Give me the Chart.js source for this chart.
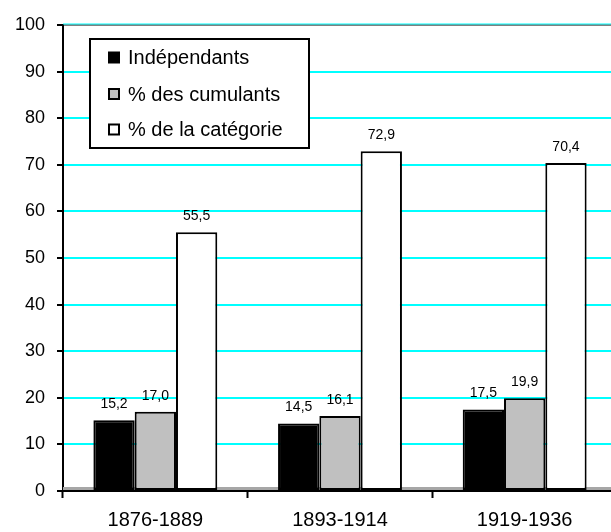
<!DOCTYPE html>
<html>
<head>
<meta charset="utf-8">
<script src="https://cdn.jsdelivr.net/npm/chart.js@4.4.0/dist/chart.umd.min.js"></script>
<style>
  html, body { margin: 0; padding: 0; background: #fff; overflow: hidden; }
</style>
</head>
<body>
<canvas id="chart" width="625" height="532"></canvas>
<script>
  // Data
  const periods = ["1876-1889", "1893-1914", "1919-1936"];
  const independants = [15.2, 14.5, 17.5];
  const cumulants = [17.0, 16.1, 19.9];
  const categorie = [55.5, 72.9, 70.4];
  const yTicks = [0, 10, 20, 30, 40, 50, 60, 70, 80, 90, 100];

  const FONT = "'Liberation Sans', Arial, sans-serif";

  const fmt = (v) => v.toFixed(1).replace(".", ",");

  // grey base band at 0 and thin cyan line over the top frame
  const frameLines = {
    id: "frameLines",
    beforeDatasetsDraw(chart) {
      const { ctx, chartArea } = chart;
      ctx.save();
      ctx.fillStyle = "#a6a6a6";
      ctx.fillRect(chartArea.left, chartArea.bottom - 4, chartArea.right - chartArea.left, 3);
      ctx.fillStyle = "#00ffff";
      ctx.fillRect(chartArea.left, chartArea.top - 1.5, chartArea.right - chartArea.left, 1);
      ctx.restore();
    },
  };

  // value labels above each bar
  const valueLabels = {
    id: "valueLabels",
    afterDatasetsDraw(chart) {
      const { ctx } = chart;
      ctx.save();
      ctx.font = "14px " + FONT;
      ctx.fillStyle = "#000";
      ctx.textAlign = "center";
      ctx.textBaseline = "alphabetic";
      chart.data.datasets.forEach((ds, i) => {
        chart.getDatasetMeta(i).data.forEach((bar, j) => {
          ctx.fillText(fmt(ds.data[j]), bar.x, bar.y - 12);
        });
      });
      ctx.restore();
    },
  };

  // boxed legend in the upper left of the plot
  const boxLegend = {
    id: "boxLegend",
    afterDraw(chart) {
      const { ctx } = chart;
      const x = 90, y = 39, w = 219, h = 109;
      const rows = [57.5, 94, 129.5];
      ctx.save();
      ctx.fillStyle = "#fff";
      ctx.fillRect(x, y, w, h);
      ctx.strokeStyle = "#000";
      ctx.lineWidth = 2;
      ctx.strokeRect(x, y, w, h);
      ctx.font = "20px " + FONT;
      ctx.textAlign = "left";
      ctx.textBaseline = "middle";
      chart.data.datasets.forEach((ds, i) => {
        const cy = rows[i];
        ctx.fillStyle = ds.backgroundColor;
        ctx.fillRect(109, cy - 5, 10, 10);
        ctx.strokeRect(109, cy - 5, 10, 10);
        ctx.fillStyle = "#000";
        ctx.fillText(ds.label, 128, cy + 1);
      });
      ctx.restore();
    },
  };

  const barStyle = {
    borderColor: "#000",
    borderWidth: 2,
    borderSkipped: false,
    categoryPercentage: 0.671,
    barPercentage: 1.0,
  };

  new Chart(document.getElementById("chart"), {
    type: "bar",
    data: {
      labels: periods,
      datasets: [
        { label: "Indépendants", data: independants, backgroundColor: "#000000", ...barStyle },
        { label: "% des cumulants", data: cumulants, backgroundColor: "#c0c0c0", ...barStyle },
        { label: "% de la catégorie", data: categorie, backgroundColor: "#ffffff", ...barStyle },
      ],
    },
    options: {
      responsive: false,
      animation: false,
      layout: { padding: { top: 25, right: 8, bottom: 0, left: 0 } },
      plugins: {
        legend: { display: false },
        tooltip: { enabled: false },
      },
      scales: {
        x: {
          offset: true,
          grid: {
            offset: true,
            drawOnChartArea: false,
            drawTicks: true,
            tickLength: 7,
            tickWidth: 2,
            tickColor: "#000",
          },
          border: { color: "#000", width: 2 },
          ticks: {
            color: "#000",
            font: { family: FONT, size: 20 },
            padding: 10,
            maxRotation: 0,
          },
          afterFit: (s) => { s.height = 41; },
        },
        y: {
          min: 0,
          max: 100,
          afterBuildTicks: (s) => { s.ticks = yTicks.map((v) => ({ value: v })); },
          grid: {
            color: (c) => c.tick.value === 100 ? "#808080" : c.tick.value === 0 ? "rgba(0,0,0,0)" : "#00ffff",
            lineWidth: 2,
            tickLength: 6,
            tickWidth: 2,
            tickColor: "#000",
          },
          border: { color: "#000", width: 2 },
          ticks: {
            color: "#000",
            font: { family: FONT, size: 18 },
            padding: 12,
          },
          afterFit: (s) => { s.width = 63; },
        },
      },
    },
    plugins: [frameLines, valueLabels, boxLegend],
  });
</script>
</body>
</html>
